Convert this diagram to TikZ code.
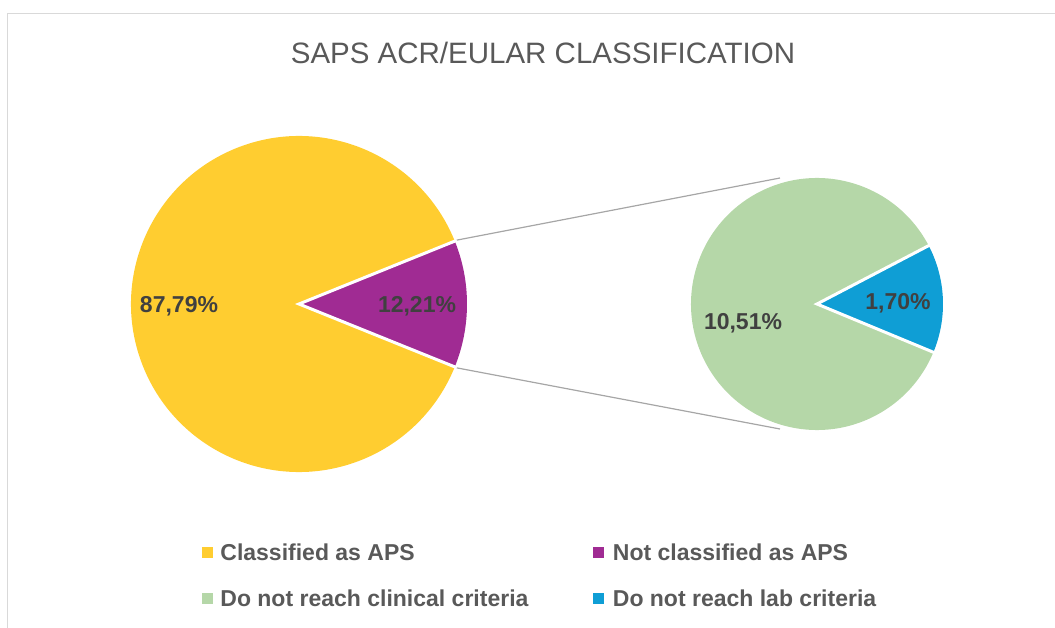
\documentclass[tikz,border=0pt]{standalone}
\usepackage{fontspec}
\setmainfont{Liberation Sans}
\usepackage{xcolor}
\usepackage{tikz}
\usetikzlibrary{calc,positioning}
\definecolor{ApsGold}{RGB}{255,205,48}
\definecolor{ApsPurple}{RGB}{160,43,147}
\definecolor{ApsGreen}{RGB}{181,215,168}
\definecolor{ApsBlue}{RGB}{15,158,213}
\definecolor{ApsText}{RGB}{89,89,89}
\definecolor{ApsLabel}{RGB}{64,64,64}
\definecolor{ApsFrame}{RGB}{217,217,217}
\definecolor{ApsLine}{RGB}{166,166,166}

\begin{document}
\begin{tikzpicture}[x=1pt,y=1pt,
  pctlabel/.style={text=ApsLabel,font=\fontsize{23}{26}\selectfont\bfseries,inner sep=0pt},
  legkey/.style={minimum size=11pt,inner sep=0pt},
  legtext/.style={text=ApsText,font=\fontsize{23}{26}\selectfont\bfseries,inner sep=0pt,anchor=west},
  sepline/.style={white,line width=3pt}]
  \useasboundingbox (0,0) rectangle (1055,627);
  \begin{scope}
    \clip (0,0) rectangle (1055,627);
    \draw[ApsFrame,line width=1.5pt] (7.5,-10) -- (7.5,613.5) -- (1070,613.5);
  \end{scope}

  % title
  \node[text=ApsText,font=\fontsize{29.5}{33}\selectfont] (title) at (543,574) {SAPS ACR/EULAR CLASSIFICATION};

  % main pie
  \coordinate (main) at (299,323);
  \fill[ApsGold] (main) -- ++(21.98:168) arc[start angle=21.98,end angle=338.02,radius=168] -- cycle;
  \fill[ApsPurple] (main) -- ++(-21.98:168) arc[start angle=-21.98,end angle=21.98,radius=168] -- cycle;
  \draw[sepline] ($(main)+(21.98:170)$) -- (main) -- ($(main)+(-21.98:170)$);

  % secondary pie
  \coordinate (sub) at (817,323);
  \fill[ApsGreen] (sub) -- ++(27.6:126) arc[start angle=27.6,end angle=337.48,radius=126] -- cycle;
  \fill[ApsBlue] (sub) -- ++(-22.52:126) arc[start angle=-22.52,end angle=27.6,radius=126] -- cycle;
  \draw[sepline] ($(sub)+(27.6:128)$) -- (sub) -- ($(sub)+(-22.52:128)$);

  % series lines
  \coordinate (mainTop) at ($(main)+(21.98:168)+(2,1)$);
  \coordinate (mainBot) at ($(main)+(-21.98:168)+(2,-1)$);
  \coordinate (subTop) at (780,449);
  \coordinate (subBot) at (780,198);
  \draw[ApsLine,line width=1.2pt] (mainTop) -- (subTop);
  \draw[ApsLine,line width=1.2pt] (mainBot) -- (subBot);

  % data labels
  \node[pctlabel] (lblGold) at (179,321) {87,79\%};
  \node[pctlabel] (lblPurple) at (417,321) {12,21\%};
  \node[pctlabel] (lblGreen) at (743,304) {10,51\%};
  \node[pctlabel] (lblBlue) at (898,324) {1,70\%};

  % legend
  \node[legkey,fill=ApsGold] (keyGold) at (207.5,75) {};
  \node[legtext,right=7pt of keyGold] (txtGold) {Classified as APS};
  \node[legkey,fill=ApsPurple] (keyPurple) at (598,75) {};
  \node[legtext,right=9pt of keyPurple] (txtPurple) {Not classified as APS};
  \node[legkey,fill=ApsGreen] (keyGreen) at (207.5,29) {};
  \node[legtext,right=7pt of keyGreen] (txtGreen) {Do not reach clinical criteria};
  \node[legkey,fill=ApsBlue] (keyBlue) at (598,29) {};
  \node[legtext,right=9pt of keyBlue] (txtBlue) {Do not reach lab criteria};
\end{tikzpicture}
\end{document}
